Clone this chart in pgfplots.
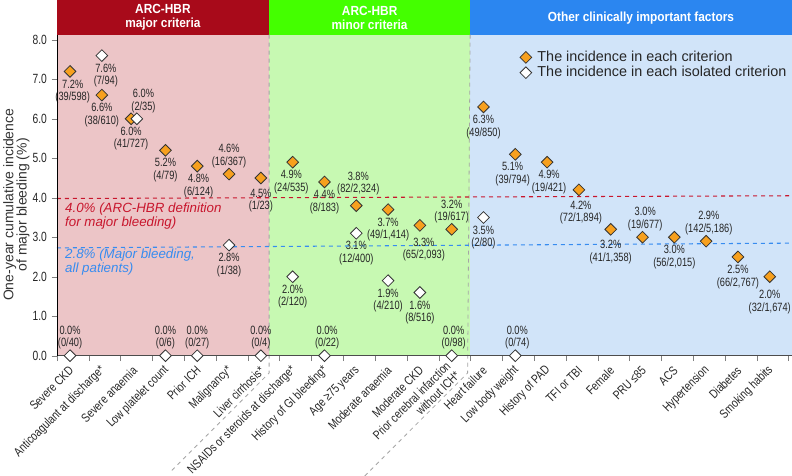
\documentclass[border=0pt]{standalone}
\usepackage{fontspec}
\setmainfont{Liberation Sans}
\newfontfamily\cond{Liberation Sans}[FakeStretch=0.77]
\newfontfamily\tcond{Liberation Sans}[FakeStretch=0.8]
\newfontfamily\hdr{Liberation Sans}[FakeStretch=0.9]
\usepackage{pgfplots}
\pgfplotsset{compat=1.18}

\definecolor{majhead}{RGB}{168,10,26}
\definecolor{majbg}{RGB}{236,197,199}
\definecolor{minhead}{RGB}{68,255,0}
\definecolor{minbg}{RGB}{199,249,178}
\definecolor{othhead}{RGB}{43,134,240}
\definecolor{othbg}{RGB}{209,228,249}
\definecolor{diamorange}{RGB}{247,160,30}
\definecolor{refred}{RGB}{200,22,45}
\definecolor{refblue}{RGB}{55,140,240}
\definecolor{sepgray}{RGB}{165,165,165}

% incidence in each criterion
\pgfplotstableread{
x y
0 7.2
1 6.6
1.92 6.0
3 5.2
4 4.8
5 4.6
6 4.5
7 4.9
8 4.4
9 3.8
10 3.7
11 3.3
12 3.2
13 6.3
14 5.1
15 4.9
16 4.2
17 3.2
18 3.0
19 3.0
20 2.9
21 2.5
22 2.0
}\allcrit
% incidence in each isolated criterion
\pgfplotstableread{
x y
0 0.0
1 7.6
2.1 6.0
3 0.0
4 0.0
5 2.8
6 0.0
7 2.0
8 0.0
9 3.1
10 1.9
11 1.6
12 0.0
13 3.5
14 0.0
}\isocrit

\tikzset{dl/.style={font=\cond\fontsize{9}{9.4}\selectfont, align=center, inner sep=0pt, text=black!85}}
\newcommand\lb[4][]{\node[dl,anchor=north,yshift=-6pt,#1] at (axis cs:#2,#3) {#4};}
\newcommand\la[4][]{\node[dl,anchor=south,yshift=4.5pt,#1] at (axis cs:#2,#3) {#4};}

\begin{document}
\begin{tikzpicture}
\begin{axis}[
  name=ax,
  scale only axis,
  width=551.25pt, height=240.75pt,
  xmin=-0.41, xmax=22.7, ymin=0, ymax=8.13,
  clip=false,
  axis on top,
  axis x line*=bottom, axis y line*=left,
  x axis line style={black!70,-},
  y axis line style={black,-},
  tick align=outside,
  major tick length=4pt, minor tick length=4pt,
  xtick={0,...,22},
  major x tick style={draw=none},
  minor xtick={-0.41,0.59,...,22.65},
  xticklabels={Severe CKD, Anticoagulant at discharge*, Severe anaemia, Low platelet count, Prior ICH, Malignancy*, Liver cirrhosis*, NSAIDs or steroids at discharge*, History of GI bleeding*, Age ≥75 years, Moderate anaemia, Moderate CKD, {Prior cerebral infarction\\without ICH*}, Heart failure, Low body weight, History of PAD, TFI or TBI, Female, PRU ≤85, ACS, Hypertension, Diabetes, Smoking habits},
  xticklabel style={yshift=-5.5pt, xshift=1pt, rotate=45, anchor=east, align=right, inner sep=0pt, text=black!85, font=\tcond\fontsize{9.4}{9.8}\selectfont},
  ytick={0,...,8},
  yticklabel style={/pgf/number format/fixed, /pgf/number format/fixed zerofill, /pgf/number format/precision=1, /pgf/number format/assume math mode=true, font=\cond\fontsize{10}{10}\selectfont, text=black!85},
  ylabel={One-year cumulative incidence\\of major bleeding (\%)},
  ylabel style={at={(axis description cs:-0.0552,0.47)}, anchor=center, align=center, text=black!80, font=\fontsize{10.5}{10}\selectfont},
  legend style={at={(rel axis cs:0.6296,0.954)}, anchor=north west, draw=none, fill=none, font=\fontsize{10.8}{12}\selectfont, text=black!85, row sep=0pt, inner sep=0pt, nodes={inner sep=0.5pt, text height=8pt, text depth=2.5pt}, /tikz/every odd column/.append style={column sep=3.8pt}},
  legend cell align=left,
]
% background regions and headers
\fill[majbg] (axis cs:-0.41,0) rectangle (axis cs:6.26,8.13);
\fill[minbg] (axis cs:6.26,0) rectangle (axis cs:12.58,8.13);
\fill[othbg] (axis cs:12.58,0) rectangle (axis cs:22.7,8.13);
\fill[majhead] (axis cs:-0.41,8.13) rectangle (axis cs:6.26,9.01);
\fill[minhead] (axis cs:6.26,8.13) rectangle (axis cs:12.58,9.01);
\fill[othhead] (axis cs:12.58,8.13) rectangle (axis cs:22.7,9.01);
\node[text=white, align=center, font=\hdr\bfseries\fontsize{9.9}{10.5}\selectfont] at (axis cs:2.92,8.56) {ARC-HBR\\major criteria};
\node[text=white, align=center, font=\hdr\bfseries\fontsize{9.9}{10.5}\selectfont] at (axis cs:9.42,8.56) {ARC-HBR\\minor criteria};
\node[text=white, align=center, font=\hdr\bfseries\fontsize{9.9}{10.5}\selectfont] at (axis cs:17.95,8.56) {Other clinically important factors};

% group separators
\draw[sepgray, dashed, line width=0.6pt] (axis cs:6.26,8.13) -- (axis cs:6.26,-0.44) -- (axis cs:3.12,-2.97);
\draw[sepgray, dashed, line width=0.6pt] (axis cs:12.58,8.13) -- (axis cs:12.5,-0.44) -- (axis cs:9.2,-3.1);

% reference levels
\addplot[refred, dashed, line width=0.8pt, forget plot] coordinates {(-0.41,3.98) (22.7,4.05)};
\addplot[refblue, dashed, line width=0.8pt, forget plot] coordinates {(-0.41,2.73) (22.7,2.85)};
\node[anchor=west, align=left, inner sep=0pt, text=refred, font=\itshape\fontsize{10}{10.5}\selectfont] at (axis cs:-0.16,3.54) {4.0\% (ARC-HBR definition\\for major bleeding)};
\node[anchor=west, align=left, inner sep=0pt, text=refblue, font=\itshape\fontsize{10}{10.5}\selectfont] at (axis cs:-0.16,2.37) {2.8\% (Major bleeding,\\all patients)};

\addplot[only marks, mark=square*, mark size=3.1pt, mark options={rotate=45, fill=diamorange, draw=black!80, line width=0.6pt}] table {\allcrit};
\addlegendentry{The incidence in each criterion}
\addplot[only marks, mark=square*, mark size=3.1pt, mark options={rotate=45, fill=white, draw=black!80, line width=0.6pt}] table {\isocrit};
\addlegendentry{The incidence in each isolated criterion}

% value labels
\lb[xshift=2pt]{0}{7.2}{7.2\%\\(39/598)}
\la{0}{0}{0.0\%\\(0/40)}
\lb[xshift=3pt]{1}{7.6}{7.6\%\\(7/94)}
\lb{1}{6.6}{6.6\%\\(38/610)}
\la[xshift=5pt]{2.1}{6.0}{6.0\%\\(2/35)}
\lb{1.92}{6.0}{6.0\%\\(41/727)}
\lb{3}{5.2}{5.2\%\\(4/79)}
\la{3}{0}{0.0\%\\(0/6)}
\lb[xshift=1pt]{4}{4.8}{4.8\%\\(6/124)}
\la{4}{0}{0.0\%\\(0/27)}
\la{5}{4.6}{4.6\%\\(16/367)}
\lb{5}{2.8}{2.8\%\\(1/38)}
\lb[yshift=-2pt]{6}{4.5}{4.5\%\\(1/23)}
\la{6}{0}{0.0\%\\(0/4)}
\lb[xshift=-1pt]{7}{4.9}{4.9\%\\(24/535)}
\lb{7}{2.0}{2.0\%\\(2/120)}
\lb{8}{4.4}{4.4\%\\(8/183)}
\la[xshift=2pt]{8}{0}{0.0\%\\(0/22)}
\la[xshift=1.5pt,yshift=3pt]{9}{3.8}{3.8\%\\(82/2,324)}
\lb{9}{3.1}{3.1\%\\(12/400)}
\lb{10}{3.7}{3.7\%\\(49/1,414)}
\lb{10}{1.9}{1.9\%\\(4/210)}
\lb[xshift=3pt,yshift=-3pt]{11}{3.3}{3.3\%\\(65/2,093)}
\lb{11}{1.6}{1.6\%\\(8/516)}
\la{12}{3.2}{3.2\%\\(19/617)}
\la[xshift=1.5pt]{12}{0}{0.0\%\\(0/98)}
\lb{13}{6.3}{6.3\%\\(49/850)}
\lb{13}{3.5}{3.5\%\\(2/80)}
\lb[xshift=-2pt]{14}{5.1}{5.1\%\\(39/794)}
\la[xshift=1.5pt]{14}{0}{0.0\%\\(0/74)}
\lb[xshift=1.5pt]{15}{4.9}{4.9\%\\(19/421)}
\lb[xshift=1.5pt,yshift=-2pt]{16}{4.2}{4.2\%\\(72/1,894)}
\lb[yshift=-2pt]{17}{3.2}{3.2\%\\(41/1,358)}
\la[xshift=2pt]{18}{3.0}{3.0\%\\(19/677)}
\lb{19}{3.0}{3.0\%\\(56/2,015)}
\la[xshift=2pt]{20}{2.9}{2.9\%\\(142/5,186)}
\lb{21}{2.5}{2.5\%\\(66/2,767)}
\lb[yshift=-4pt]{22}{2.0}{2.0\%\\(32/1,674)}
\end{axis}
\pgfresetboundingbox
\path ([xshift=-42.75pt,yshift=-89.5pt]ax.south west) rectangle ++(594pt,356.25pt);
\end{tikzpicture}
\end{document}
